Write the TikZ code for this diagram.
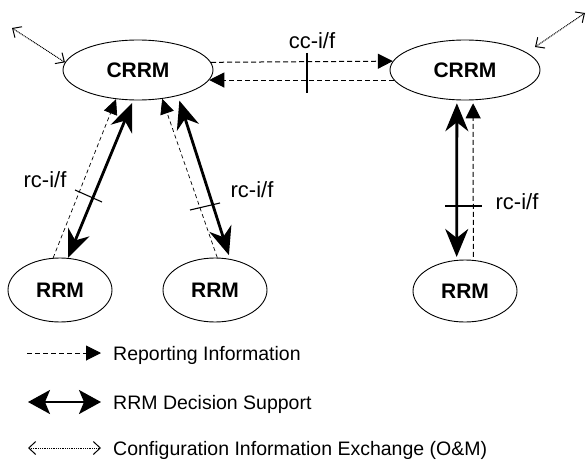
\documentclass[tikz,border=0pt]{standalone}
\usepackage{fontspec}
\setmainfont{Liberation Sans}
\usetikzlibrary{arrows.meta,shapes.geometric}
\begin{document}
\begin{tikzpicture}[x=1pt,y=-1pt,
  ell/.style={draw, ellipse, line width=0.9pt, inner sep=0pt, font=\fontsize{21}{24}\selectfont\bfseries},
  crrm/.style={ell, minimum width=150pt, minimum height=60pt},
  rrm/.style={ell, minimum width=104pt, minimum height=64pt},
  lbl/.style={font=\fontsize{22}{25}\selectfont, inner sep=0pt},
  leg/.style={font=\fontsize{19.5}{22}\selectfont, inner sep=0pt, anchor=base west},
  rep/.style={dash pattern=on 5pt off 3pt, line width=1pt, -{Triangle[length=15pt,width=15pt]}},
  repthin/.style={dash pattern=on 4pt off 3pt, line width=0.7pt, -{Triangle[length=15pt,width=14pt]}},
  dec/.style={line width=2.8pt, {Stealth[length=28pt,width=23pt,inset=9pt]}-{Stealth[length=28pt,width=23pt,inset=9pt]}},
  legdec/.style={line width=2pt, {Stealth[length=22pt,width=24pt,inset=5pt]}-{Stealth[length=22pt,width=24pt,inset=5pt]}},
  cfg/.style={dash pattern=on 1pt off 0.8pt, line width=1pt, {Straight Barb[length=7pt,width=13pt,line width=1pt]}-{Straight Barb[length=7pt,width=13pt,line width=1pt]}},
  ifmark/.style={line width=1.1pt}
]
\useasboundingbox (0,0) rectangle (586,460);

% nodes
\node[crrm] (cL) at (138,70) {CRRM};
\node[crrm] (cR) at (465,70) {CRRM};
\node[rrm] (r1) at (60,290) {RRM};
\node[rrm] (r2) at (215,290) {RRM};
\node[rrm, minimum height=62pt] (r3) at (465,291) {RRM};

% cc-i/f
\draw[rep] (cL.6.3) -- (cR.173.7);
\draw[rep] (cR.188) -- (cL.352);
\coordinate (k1a) at (307,53);
\coordinate (k1b) at (307,93);
\draw[ifmark] (k1a) -- (k1b);
\node[lbl] (cci) at (312,41) {cc-i/f};

% left pair
\draw[repthin] (r1.102) -- (cL.233);
\draw[dec, shorten >=3pt] (r1.76) -- (cL.261);
\coordinate (k2a) at (75,190);
\coordinate (k2b) at (102,202);
\draw[ifmark] (k2a) -- (k2b);
\node[lbl] (rci1) at (45,180) {rc-i/f};

% middle pair
\draw[repthin] (r2.86) -- (cL.310);
\draw[dec, shorten <=5pt, shorten >=4pt] (cL.327) -- (r2.64);
\coordinate (k3a) at (190,210);
\coordinate (k3b) at (220,203);
\draw[ifmark] (k3a) -- (k3b);
\node[lbl] (rci2) at (252,190) {rc-i/f};

% right pair
\draw[dec, shorten <=3pt, shorten >=3pt] (r3.105) -- (cR.255);
\draw[rep, shorten <=3pt, shorten >=3pt] (r3.75) -- (cR.285);
\coordinate (k4a) at (445,206);
\coordinate (k4b) at (482,206);
\draw[ifmark] (k4a) -- (k4b);
\node[lbl] (rci3) at (517,202) {rc-i/f};

% O&M
\coordinate (tl) at (12,28);
\draw[cfg] (tl) -- (cL.174);
\coordinate (tr1) at (535,47);
\coordinate (tr2) at (585,13);
\draw[cfg] (tr1) -- (tr2);

% legend
\coordinate (l1a) at (27,353);
\coordinate (l1b) at (101,353);
\draw[rep] (l1a) -- (l1b);
\node[leg] (t1) at (113,360) {Reporting Information};
\coordinate (l2a) at (28,402);
\coordinate (l2b) at (101,402);
\draw[legdec] (l2a) -- (l2b);
\node[leg] (t2) at (113,409) {RRM Decision Support};
\coordinate (l3a) at (28,448);
\coordinate (l3b) at (101,448);
\draw[cfg] (l3a) -- (l3b);
\node[leg] (t3) at (113,455) {Configuration Information Exchange (O\&M)};
\end{tikzpicture}
\end{document}
